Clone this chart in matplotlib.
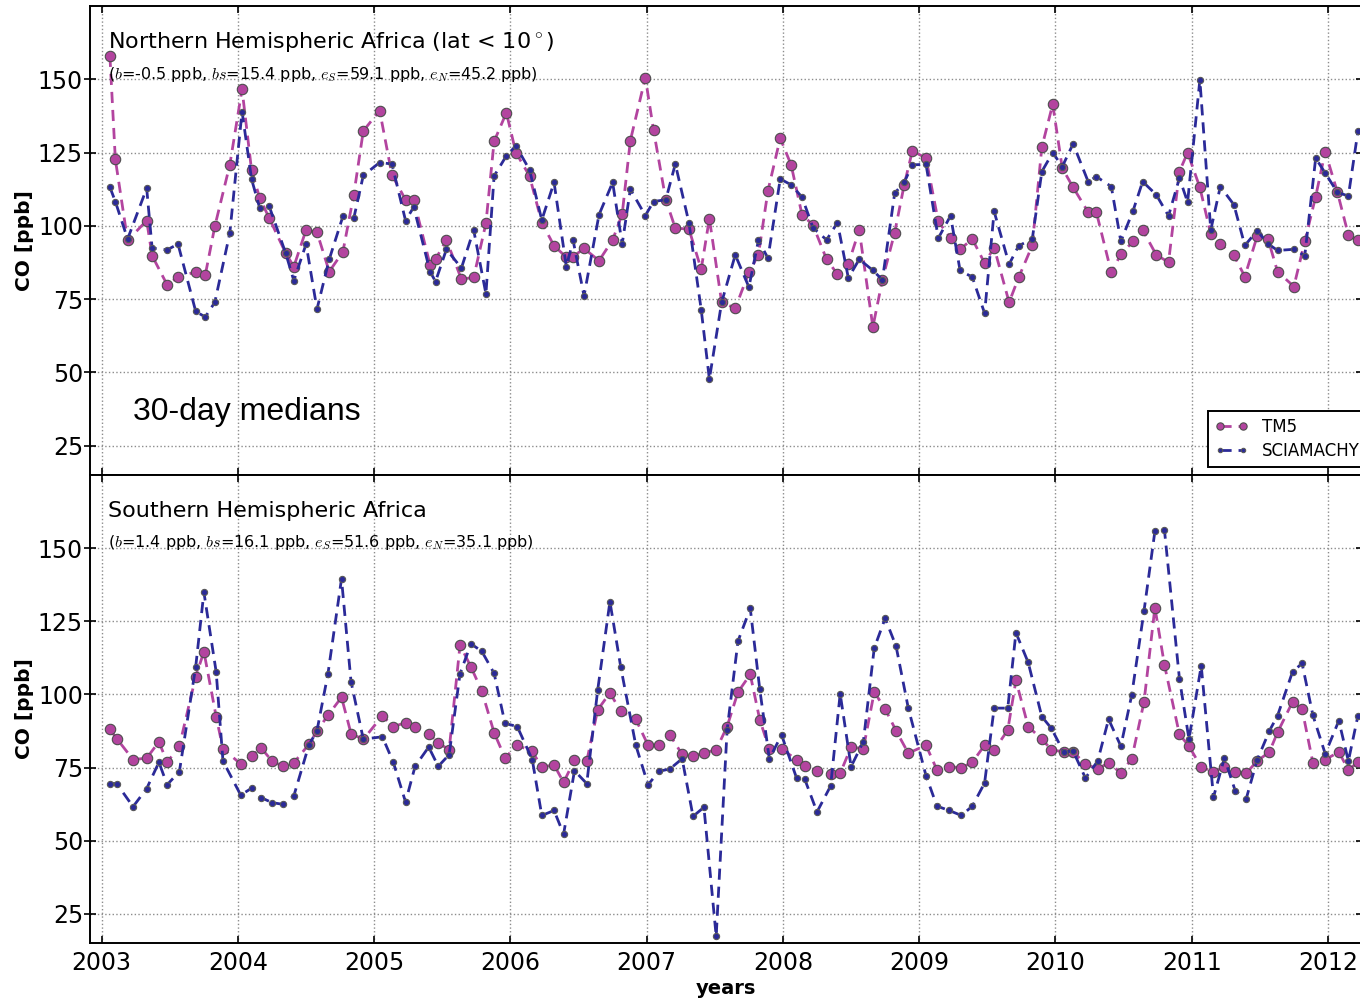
import numpy as np
import matplotlib
matplotlib.use("Agg")
import matplotlib.pyplot as plt

plt.rcParams['mathtext.fontset'] = 'cm'

# 30-day median sample times (decimal years) and CO values [ppb]
north_t = [2003.06, 2003.10, 2003.19, 2003.33, 2003.37, 2003.48, 2003.56, 2003.69, 2003.76, 2003.83,
           2003.94, 2004.03, 2004.10, 2004.16, 2004.23, 2004.35, 2004.41, 2004.50, 2004.58, 2004.67,
           2004.77, 2004.85, 2004.92, 2005.04, 2005.13, 2005.23, 2005.29, 2005.41, 2005.45, 2005.53,
           2005.64, 2005.73, 2005.82, 2005.88, 2005.97, 2006.04, 2006.14, 2006.23, 2006.32, 2006.41,
           2006.46, 2006.54, 2006.65, 2006.75, 2006.82, 2006.88, 2006.99, 2007.05, 2007.14, 2007.21,
           2007.31, 2007.40, 2007.46, 2007.55, 2007.65, 2007.75, 2007.82, 2007.89, 2007.98, 2008.06,
           2008.14, 2008.22, 2008.32, 2008.40, 2008.48, 2008.56, 2008.66, 2008.73, 2008.82, 2008.89,
           2008.95, 2009.05, 2009.14, 2009.23, 2009.30, 2009.39, 2009.48, 2009.55, 2009.66, 2009.73,
           2009.83, 2009.90, 2009.98, 2010.05, 2010.13, 2010.24, 2010.30, 2010.41, 2010.48, 2010.57,
           2010.64, 2010.74, 2010.83, 2010.91, 2010.97, 2011.06, 2011.14, 2011.21, 2011.31, 2011.39,
           2011.48, 2011.56, 2011.63, 2011.75, 2011.83, 2011.91, 2011.98, 2012.07, 2012.15, 2012.22]
north_tm5 = [158.0, 122.7, 95.0, 101.8, 89.8, 79.9, 82.5, 84.3, 83.2, 99.8,
             120.8, 146.6, 118.9, 109.4, 102.6, 90.7, 86.1, 98.6, 97.8, 84.4,
             91.1, 110.6, 132.4, 139.3, 117.4, 108.9, 108.9, 86.7, 88.6, 95.2,
             81.8, 82.4, 100.9, 128.8, 138.6, 125.0, 117.0, 101.1, 93.2, 89.3,
             89.5, 92.3, 88.1, 95.2, 104.0, 129.1, 150.6, 132.7, 108.9, 99.2,
             98.9, 85.2, 102.5, 73.9, 71.9, 84.1, 90.1, 112.0, 129.9, 120.8,
             103.8, 100.3, 88.6, 83.5, 87.0, 98.6, 65.5, 81.6, 97.7, 114.0,
             125.6, 123.1, 101.5, 95.8, 92.0, 95.5, 87.3, 92.6, 73.9, 82.4,
             93.3, 126.8, 141.5, 119.7, 113.1, 104.7, 104.7, 84.1, 90.3, 94.7,
             98.6, 90.1, 87.6, 118.5, 125.0, 113.1, 97.2, 93.9, 89.9, 82.7,
             96.4, 95.5, 84.4, 79.3, 94.7, 110.0, 125.3, 111.4, 96.9, 95.0]
north_scia = [113.2, 108.3, 95.5, 112.8, 92.4, 91.8, 93.8, 70.8, 68.9, 73.9,
              97.5, 139.0, 115.9, 106.0, 106.6, 90.7, 81.3, 93.8, 71.6, 88.6,
              103.2, 102.6, 117.2, 121.6, 121.1, 101.8, 106.4, 84.4, 81.0, 92.0,
              85.6, 98.6, 76.8, 117.0, 123.9, 127.3, 119.1, 102.0, 114.8, 86.1,
              95.0, 76.1, 103.8, 114.8, 93.8, 112.5, 103.5, 108.3, 108.9, 121.1,
              101.1, 71.4, 47.7, 73.9, 90.1, 79.1, 95.0, 89.0, 116.0, 114.0,
              109.8, 99.4, 95.2, 101.1, 82.2, 88.6, 84.8, 81.6, 111.1, 114.9,
              120.8, 121.0, 95.8, 103.4, 84.8, 82.5, 70.2, 104.9, 86.9, 93.2,
              95.5, 118.5, 125.0, 120.2, 128.0, 115.1, 116.8, 113.4, 94.7, 105.2,
              115.1, 110.6, 103.4, 116.3, 108.1, 149.8, 98.6, 113.4, 107.2, 93.3,
              98.3, 93.9, 91.6, 92.0, 89.8, 123.1, 118.0, 111.4, 110.2, 132.2]

south_t = [2003.06, 2003.11, 2003.23, 2003.33, 2003.42, 2003.48, 2003.57, 2003.69, 2003.75, 2003.84,
           2003.89, 2004.02, 2004.10, 2004.17, 2004.25, 2004.33, 2004.41, 2004.52, 2004.58, 2004.66,
           2004.76, 2004.83, 2004.92, 2005.06, 2005.14, 2005.23, 2005.30, 2005.40, 2005.47, 2005.55,
           2005.63, 2005.71, 2005.79, 2005.88, 2005.96, 2006.05, 2006.16, 2006.23, 2006.32, 2006.39,
           2006.47, 2006.56, 2006.64, 2006.73, 2006.81, 2006.92, 2007.01, 2007.09, 2007.17, 2007.26,
           2007.34, 2007.42, 2007.51, 2007.59, 2007.67, 2007.76, 2007.83, 2007.90, 2007.99, 2008.10,
           2008.16, 2008.25, 2008.35, 2008.42, 2008.50, 2008.59, 2008.67, 2008.75, 2008.83, 2008.92,
           2009.05, 2009.13, 2009.22, 2009.31, 2009.39, 2009.48, 2009.55, 2009.65, 2009.71, 2009.80,
           2009.90, 2009.97, 2010.06, 2010.13, 2010.22, 2010.31, 2010.39, 2010.48, 2010.56, 2010.65,
           2010.73, 2010.80, 2010.91, 2010.98, 2011.07, 2011.16, 2011.24, 2011.32, 2011.40, 2011.48,
           2011.57, 2011.63, 2011.74, 2011.81, 2011.89, 2011.98, 2012.08, 2012.15, 2012.22]
south_tm5 = [88.0, 84.9, 77.7, 78.2, 83.8, 76.8, 82.3, 106.1, 114.6, 92.4,
             81.4, 76.2, 79.1, 81.7, 77.2, 75.4, 76.6, 82.9, 87.5, 92.8,
             99.0, 86.6, 84.6, 92.7, 89.0, 90.3, 88.7, 86.6, 83.4, 81.1,
             116.9, 109.4, 101.1, 86.9, 78.3, 82.6, 80.5, 75.1, 75.9, 69.9,
             77.6, 77.2, 94.7, 100.5, 94.2, 91.5, 82.6, 82.6, 86.1, 79.5,
             78.9, 79.9, 81.1, 89.0, 100.8, 106.8, 91.3, 81.3, 81.3, 77.7,
             75.4, 73.9, 72.8, 73.0, 82.0, 81.4, 100.8, 95.0, 87.6, 79.9,
             82.6, 74.2, 75.3, 74.9, 76.8, 82.6, 80.9, 87.8, 104.8, 89.0,
             84.7, 81.1, 80.3, 80.3, 76.2, 74.5, 76.6, 73.1, 78.0, 97.4,
             129.7, 110.1, 86.3, 82.3, 75.1, 73.6, 75.1, 73.6, 73.0, 77.2,
             80.3, 87.0, 97.4, 95.0, 76.5, 77.7, 80.3, 74.2, 76.8]
south_scia = [69.5, 69.5, 61.6, 67.8, 76.8, 69.1, 73.6, 109.5, 134.9, 107.7,
              77.2, 65.6, 67.9, 64.7, 63.0, 62.4, 65.3, 82.6, 87.6, 106.9,
              139.5, 104.3, 84.7, 85.5, 76.8, 63.2, 75.4, 82.0, 75.4, 79.4,
              107.1, 117.3, 114.7, 107.2, 90.1, 89.0, 77.7, 58.6, 60.3, 52.2,
              73.9, 69.5, 101.4, 131.7, 109.2, 82.6, 69.1, 73.7, 74.5, 78.0,
              58.3, 61.4, 17.3, 87.8, 118.2, 129.4, 101.7, 78.0, 86.1, 71.4,
              71.0, 59.8, 68.7, 100.2, 75.3, 83.8, 115.8, 126.0, 116.5, 95.3,
              72.2, 61.8, 60.3, 58.6, 61.8, 69.7, 95.3, 95.3, 121.1, 110.9,
              92.4, 88.4, 80.3, 80.6, 71.4, 77.2, 91.5, 82.3, 99.8, 128.5,
              155.8, 156.2, 105.4, 84.7, 109.8, 64.9, 78.2, 67.0, 64.3, 77.5,
              87.5, 92.7, 107.7, 110.6, 92.8, 79.7, 91.0, 77.2, 92.7]

titles = ["Northern Hemispheric Africa (lat < 10$^\\circ$)", "Southern Hemispheric Africa"]
stats = ["($b$=-0.5 ppb, $bs$=15.4 ppb, $e_S$=59.1 ppb, $e_N$=45.2 ppb)",
         "($b$=1.4 ppb, $bs$=16.1 ppb, $e_S$=51.6 ppb, $e_N$=35.1 ppb)"]
years = list(range(2003, 2013))

TM5_COL = '#b3449f'
SCIA_COL = '#2b2a98'


def draw_panel(ax, t, tm5, scia, title, stat):
    ax.plot(t, tm5, color=TM5_COL, lw=2.0, dashes=(4, 2.5), marker='o', ms=7.5,
            mfc=TM5_COL, mec='0.3', mew=0.8, label='TM5')
    ax.plot(t, scia, color=SCIA_COL, lw=2.0, dashes=(4, 2.5), marker='o', ms=4.5,
            mfc=SCIA_COL, mec='0.35', mew=0.8, label='SCIAMACHY')
    ax.set_xlim(2002.914, 2012.25)
    ax.set_ylim(15, 175)
    ax.set_xticks(years)
    ax.set_yticks([25, 50, 75, 100, 125, 150])
    ax.grid(True, linestyle=':', color='0.55', lw=1.0)
    ax.tick_params(axis='x', direction='in', top=True, length=5, width=1.2, labelsize=17, pad=6)
    ax.tick_params(axis='y', direction='inout', right=True, length=8, width=1.2, labelsize=17, pad=1)
    ax.set_ylabel('CO [ppb]', fontsize=14.5, fontweight='bold', labelpad=3)
    ax.text(0.0142, 0.924, title, transform=ax.transAxes, fontsize=16, va='center')
    ax.text(0.0142, 0.855, stat, transform=ax.transAxes, fontsize=11.5, va='center')
    for s in ax.spines.values():
        s.set_linewidth(1.4)


fig = plt.figure(figsize=(13.6, 10.01), dpi=100)
ax1 = fig.add_axes([90 / 1360, 1 - 475 / 1001, 1272 / 1360, 469 / 1001])
ax2 = fig.add_axes([90 / 1360, 1 - 943 / 1001, 1272 / 1360, 468 / 1001])

draw_panel(ax1, north_t, north_tm5, north_scia, titles[0], stats[0])
draw_panel(ax2, south_t, south_tm5, south_scia, titles[1], stats[1])
ax1.tick_params(labelbottom=False)
ax2.set_xticklabels([str(y) for y in years])
ax2.set_xlabel('years', fontsize=14, fontweight='bold', labelpad=3)

ax1.text(0.034, 0.134, '30-day medians', transform=ax1.transAxes, fontsize=23,
         family='Liberation Sans', va='center')

leg = ax1.legend(loc='upper left', bbox_to_anchor=(1208 / 1360, 1 - 411 / 1001),
                 bbox_transform=fig.transFigure, borderaxespad=0, numpoints=2,
                 fontsize=12, fancybox=False, framealpha=1, handlelength=2.0,
                 handletextpad=0.85, markerscale=0.7, labelspacing=0.4)
leg.get_frame().set_edgecolor('black')
leg.get_frame().set_linewidth(1.4)

fig.savefig('out.png', dpi=100, facecolor='white')
